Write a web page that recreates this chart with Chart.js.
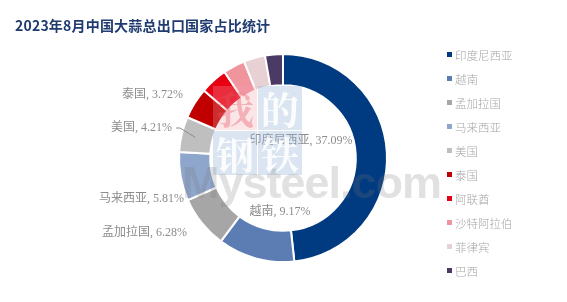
<!DOCTYPE html>
<html>
<head>
<meta charset="utf-8">
<script src="https://cdn.jsdelivr.net/npm/chart.js@4.4.0/dist/chart.umd.min.js"></script>
<style>
  html, body { margin: 0; padding: 0; background: #fff; }
  #wrap { position: relative; width: 567px; height: 302px; overflow: hidden; }
  #c { position: absolute; left: 0; top: 0; }
  #title { position: absolute; left: 15px; top: 15px; font: bold 14px "Noto Sans CJK SC", sans-serif; color: #1f3b70; white-space: nowrap; letter-spacing: 0.2px; }
  #legend { position: absolute; left: 447px; top: 0; font: 11.5px "Noto Sans CJK SC", sans-serif; color: #a6a6a6; }
  .li { position: absolute; left: 0; height: 16px; line-height: 16px; white-space: nowrap; }
  .sw { position: absolute; left: 0; top: 5px; width: 5px; height: 5px; }
  .lt { position: absolute; left: 8px; top: 0; font-weight: 300; }
  #wm { position: absolute; left: 0; top: 0; width: 567px; height: 302px; pointer-events: none; }
  .box { position: absolute; width: 44px; height: 44px; font: bold 38px "Noto Serif CJK SC", "Noto Sans CJK SC", serif; text-align: center; line-height: 44px; }
  #ms { position: absolute; left: 182px; top: 157px; font: bold 45px "Liberation Sans", sans-serif; color: rgba(120,120,120,0.22); letter-spacing: -1px; white-space: nowrap; }
</style>
</head>
<body>
<div id="wrap">
  <canvas id="c" width="567" height="302"></canvas>
  <div id="wm">
    <div class="box" style="left:213px;top:86px;background:rgba(240,160,170,0.28);color:rgba(230,80,95,0.35);">我</div>
    <div class="box" style="left:258px;top:86px;background:rgba(150,180,215,0.35);color:rgba(255,255,255,0.9);">的</div>
    <div class="box" style="left:213px;top:131px;background:rgba(150,180,215,0.35);color:rgba(255,255,255,0.9);">钢</div>
    <div class="box" style="left:258px;top:131px;background:rgba(150,180,215,0.35);color:rgba(255,255,255,0.9);">铁</div>
    <div id="ms">Mysteel.com</div>
  </div>
  <div id="title">2023年8月中国大蒜总出口国家占比统计</div>
  <div id="legend"></div>
</div>
<script>
// ---- data ----
const categories = ['印度尼西亚', '越南', '孟加拉国', '马来西亚', '美国', '泰国', '阿联酋', '沙特阿拉伯', '菲律宾', '巴西'];
const shares = [37.09, 9.17, 6.28, 5.81, 4.21, 3.72, 3.26, 2.62, 2.56, 2.13];
const labelled = [true, true, true, true, true, true, false, false, false, false];
const colors = ['#003a80', '#5b7db3', '#a6a6a6', '#8fa6cc', '#bfbfbf', '#c00000', '#e60012', '#f0949e', '#e8d1d4', '#4b3a63'];

// ---- label placement (relative to doughnut centre) ----
const labelLayout = [
  { dx: 18, dy: -17, align: 'center' },
  { dx: -3, dy: 54, align: 'center' },
  { dx: -96, dy: 75, align: 'right' },
  { dx: -99, dy: 41, align: 'right' },
  { dx: -111, dy: -30, align: 'right', leader: true },
  { dx: -100, dy: -63, align: 'right' }
];

const labelPlugin = {
  id: 'sliceLabels',
  afterDatasetsDraw(chart) {
    const ctx = chart.ctx;
    const meta = chart.getDatasetMeta(0);
    ctx.save();
    ctx.font = '12px "Liberation Serif", "Noto Sans CJK SC", serif';
    ctx.fillStyle = '#8c8c8c';
    ctx.textBaseline = 'middle';
    meta.data.forEach((arc, i) => {
      if (!labelled[i]) return;
      const L = labelLayout[i];
      const p = arc.getProps(['x', 'y', 'startAngle', 'endAngle', 'innerRadius', 'outerRadius'], true);
      const tx = p.x + L.dx, ty = p.y + L.dy;
      const text = categories[i] + ', ' + shares[i].toFixed(2) + '%';
      ctx.textAlign = L.align;
      ctx.fillText(text, tx, ty);
      if (L.leader) {
        const mid = (p.startAngle + p.endAngle) / 2;
        const r = p.outerRadius - 14;
        ctx.strokeStyle = '#8c8c8c';
        ctx.lineWidth = 1;
        ctx.beginPath();
        ctx.moveTo(tx + 4, ty);
        ctx.lineTo(tx + 8, ty);
        ctx.lineTo(p.x + Math.cos(mid) * r, p.y + Math.sin(mid) * r);
        ctx.stroke();
      }
    });
    ctx.restore();
  }
};

new Chart(document.getElementById('c'), {
  type: 'doughnut',
  data: {
    labels: categories,
    datasets: [{
      data: shares,
      backgroundColor: colors,
      borderColor: '#ffffff',
      borderWidth: 2,
      hoverOffset: 0
    }]
  },
  options: {
    responsive: false,
    animation: false,
    cutout: '70%',
    layout: { padding: { left: 178, right: 179, top: 53, bottom: 39 } },
    plugins: { legend: { display: false }, tooltip: { enabled: false } }
  },
  plugins: [labelPlugin]
});

// ---- legend ----
const lg = document.getElementById('legend');
categories.forEach((name, i) => {
  const d = document.createElement('div');
  d.className = 'li';
  d.style.top = (47 + i * 24) + 'px';
  d.innerHTML = '<span class="sw" style="background:' + colors[i] + '"></span><span class="lt">' + name + '</span>';
  lg.appendChild(d);
});
</script>
</body>
</html>
